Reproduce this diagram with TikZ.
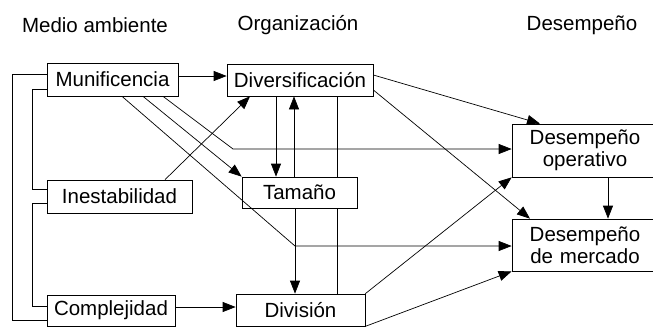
\documentclass[tikz,border=0pt]{standalone}
\usepackage{fontspec}
\setmainfont{Liberation Sans}
\usetikzlibrary{arrows.meta}
\begin{document}
\begin{tikzpicture}[x=1pt,y=-1pt,
  box/.style={draw, line width=0.7pt, inner sep=0pt, font=\fontsize{20.5}{24}\selectfont, align=center},
  hdr/.style={inner sep=0pt, font=\fontsize{20.5}{24}\selectfont},
  ln/.style={line width=0.7pt},
  arr/.style={line width=0.7pt, -{Triangle[length=13pt,width=10pt]}}]
\useasboundingbox (0,0) rectangle (653,327);
% headers
\node[hdr] (h1) at (95,25) {Medio ambiente};
\node[hdr] (h2) at (298,25) {Organización};
\node[hdr] (h3) at (582,25) {Desempeño};
% boxes
\node[box, minimum width=131, minimum height=33] (mun) at (112.5,79.5) {Munificencia};
\node[box, minimum width=146, minimum height=32] (div) at (300,80) {Diversificación};
\node[box, minimum width=145, minimum height=33] (ine) at (119.5,196.5) {Inestabilidad};
\node[box, minimum width=115, minimum height=31] (tam) at (299.5,192.5) {Tamaño};
\node[box, minimum width=128, minimum height=31] (com) at (111,310.5) {Complejidad};
\node[box, minimum width=129, minimum height=32] (dvs) at (300.5,310) {División};
\node[box, minimum width=146, minimum height=53, text width=140] (dop) at (585,150.5) {Desempeño\\[-1.5pt]operativo};
\node[box, minimum width=146, minimum height=52, text width=140] (dme) at (585,245) {Desempeño\\[-1.5pt]de mercado};
% junctions
\coordinate (j1) at (233,149);
\coordinate (j2) at (295,246);
% left brackets
\draw[ln] ([yshift=5.5]mun.west) -- ++(-34,0) |- ([yshift=-9.5]com.west);
\draw[ln] ([yshift=-9.5]mun.west) -- ++(-14,0) |- ([yshift=7.5]ine.west);
\draw[ln] ([yshift=-6.5]ine.west) -- ++(-14,0) |- ([yshift=3.8]com.west);
% organisation arrows
\draw[arr] ([yshift=3.5]mun.east) -- ([yshift=3.5]mun.east -| div.west);
\draw[arr] ([xshift=-24]div.south) -- ([xshift=-24]div.south |- tam.north);
\draw[arr] ([xshift=-5.5]tam.north) -- ([xshift=-5.5]tam.north |- div.south);
\draw[ln] ([xshift=37]div.south) -- ([xshift=37]div.south |- tam.north);
\draw[ln] ([xshift=37.5]tam.south) -- ([xshift=37.5]tam.south |- dvs.north);
\draw[arr] ([xshift=-4.5]tam.south) -- ([xshift=-4.5]tam.south |- dvs.north);
\draw[arr] ([yshift=3.5]com.east) -- ([yshift=3.5]com.east -| dvs.west);
% munificencia diagonals
\draw[arr] ([xshift=9.5]mun.south) -- (j2) -- (j2 -| dme.west);
\draw[arr] ([xshift=30.5]mun.south) -- (tam.north west);
\draw[arr] ([xshift=50.5]mun.south) -- (j1) -- (j1 -| dop.west);
% inestabilidad
\draw[arr] ([xshift=45.5]ine.north) -- ([xshift=-50]div.south);
% performance arrows
\draw[arr] ([yshift=5]div.east) -- ([xshift=-45]dop.north);
\draw[arr] ([yshift=-10]div.east) -- ([xshift=-55]dme.north);
\draw[arr] ([xshift=23]dop.south) -- ([xshift=23]dop.south |- dme.north);
\draw[arr] (dvs.north east) -- (dop.south west);
\draw[arr] (dvs.south east) -- (dme.south west);
\end{tikzpicture}
\end{document}
